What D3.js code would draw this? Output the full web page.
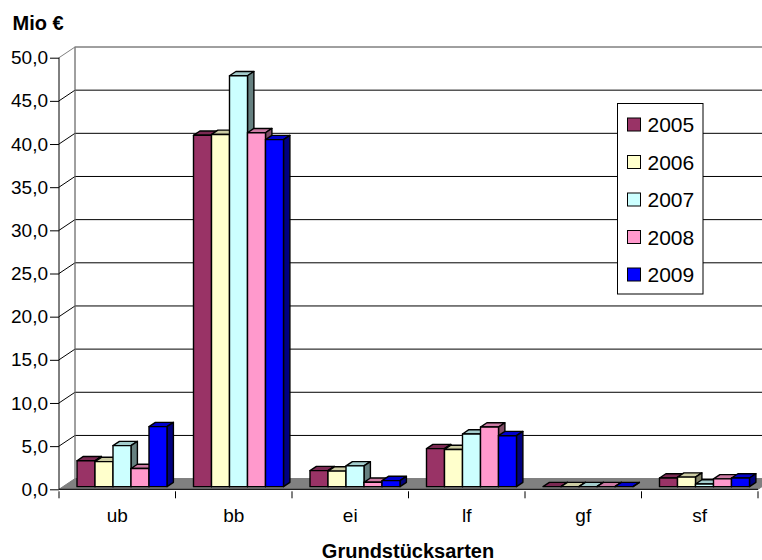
<!DOCTYPE html>
<html>
<head>
<meta charset="utf-8">
<script src="https://cdn.jsdelivr.net/npm/d3@7"></script>
<style>
  html, body { margin: 0; padding: 0; background: #fff; }
  svg { display: block; font-family: "Liberation Sans", Arial, sans-serif; }
</style>
</head>
<body>
<svg id="chart" width="762" height="560"></svg>
<script>
// Grundstücksarten, Mio € je Jahr
const categories = ["ub", "bb", "ei", "lf", "gf", "sf"];
const years = ["2005", "2006", "2007", "2008", "2009"];
const v2005 = [3.0, 40.7, 1.85, 4.4, 0.0, 1.0];
const v2006 = [2.9, 40.8, 1.8, 4.3, 0.0, 1.1];
const v2007 = [4.75, 47.6, 2.4, 6.1, 0.0, 0.3];
const v2008 = [2.1, 41.0, 0.5, 6.9, 0.0, 0.9];
const v2009 = [6.95, 40.2, 0.7, 5.9, 0.0, 1.0];
const yTicks = [0, 5, 10, 15, 20, 25, 30, 35, 40, 45, 50];
const colors = ["#993366", "#FFFFCC", "#CCFFFF", "#FF99CC", "#0000FF"];

const series = [v2005, v2006, v2007, v2008, v2009];

const svg = d3.select("#chart");
const de = d3.formatLocale({ decimal: ",", thousands: ".", grouping: [3], currency: ["", " €"] });
const fmt = de.format(".1f");

// front plane of the 3D box
const left = 59, right = 758;
const y = d3.scaleLinear().domain([0, 50]).range([489.3, 57.7]);
const x = d3.scaleBand().domain(categories).range([left, right]).padding(0);
const xs = d3.scaleBand().domain(years).range([14, 104]).padding(0);
// depth vector (front -> back)
const DX = 16, DY = -10.7;
const barFront = 0.25, barDepth = 0.4;

// back wall
svg.append("rect")
  .attr("x", left + DX).attr("y", y(50) + DY)
  .attr("width", right - left).attr("height", y(0) - y(50))
  .attr("fill", "#fff").attr("stroke", "#808080");

// floor
svg.append("polygon")
  .attr("points", [[left, y(0)], [right, y(0)], [right + DX, y(0) + DY], [left + DX, y(0) + DY]].join(" "))
  .attr("fill", "#808080").attr("stroke", "#808080");

// gridlines on back and side wall
const grid = svg.append("g");
yTicks.filter(v => v > 0).forEach(v => {
  const c = v === 50 ? "#808080" : "#000";
  grid.append("line")
    .attr("x1", left + DX).attr("x2", right + DX)
    .attr("y1", y(v) + DY).attr("y2", y(v) + DY)
    .attr("stroke", c);
  grid.append("line")
    .attr("x1", left).attr("y1", y(v))
    .attr("x2", left + DX).attr("y2", y(v) + DY)
    .attr("stroke", c);
});
grid.append("line")
  .attr("x1", left + DX).attr("x2", left + DX)
  .attr("y1", y(50) + DY).attr("y2", y(0) + DY)
  .attr("stroke", "#808080");

// y axis
const yAxis = svg.append("g")
  .attr("transform", `translate(${left},0)`)
  .call(d3.axisLeft(y).tickValues(yTicks).tickFormat(fmt).tickSize(9).tickPadding(2));
yAxis.select(".domain").attr("stroke", "#000").attr("d", `M0,${y(50)}V${y(0)}`);
yAxis.selectAll(".tick line").attr("stroke", "#000");
yAxis.selectAll(".tick text")
  .attr("font-size", 19).attr("fill", "#000")
  .attr("font-family", "Liberation Sans, Arial, sans-serif");

// category axis
svg.append("line")
  .attr("x1", left).attr("x2", right)
  .attr("y1", y(0)).attr("y2", y(0)).attr("stroke", "#000");
const xAxis = svg.append("g")
  .attr("transform", `translate(0,${y(0)})`)
  .call(d3.axisBottom(x).tickSize(0).tickPadding(19));
xAxis.select(".domain").remove();
xAxis.selectAll(".tick text")
  .attr("font-size", 19).attr("fill", "#000")
  .attr("font-family", "Liberation Sans, Arial, sans-serif");
categories.concat([null]).forEach((c, i) => {
  const xx = c ? x(c) : x(categories[categories.length - 1]) + x.bandwidth();
  svg.append("line")
    .attr("x1", xx).attr("x2", xx)
    .attr("y1", y(0) + 2).attr("y2", y(0) + 9)
    .attr("stroke", "#000");
});

// bars
function shade(col, k) {
  const c = d3.rgb(col);
  return d3.rgb(c.r * k, c.g * k, c.b * k).formatHex();
}
const bars = svg.append("g").attr("stroke", "#000").attr("stroke-width", 1.4).attr("stroke-linejoin", "round");
const bdx = DX * barDepth, bdy = DY * barDepth;
categories.forEach((cat, ci) => {
  years.forEach((yr, si) => {
    const v = series[si][ci];
    const xl = x(cat) + xs(yr) + DX * barFront;
    const w = xs.bandwidth();
    const yt = y(v) + DY * barFront;
    const yb = y(0) + DY * barFront;
    const g = bars.append("g");
    g.append("polygon")
      .attr("points", [[xl, yt], [xl + w, yt], [xl + w + bdx, yt + bdy], [xl + bdx, yt + bdy]].join(" "))
      .attr("fill", shade(colors[si], 0.8));
    g.append("polygon")
      .attr("points", [[xl + w, yt], [xl + w + bdx, yt + bdy], [xl + w + bdx, yb + bdy], [xl + w, yb]].join(" "))
      .attr("fill", shade(colors[si], 0.5));
    if (v > 0) {
      g.append("rect")
        .attr("x", xl).attr("y", yt)
        .attr("width", w).attr("height", yb - yt)
        .attr("fill", colors[si]);
    }
  });
});

// legend
const lg = svg.append("g").attr("transform", "translate(617.5,103.5)");
lg.append("rect").attr("width", 85.5).attr("height", 190.5)
  .attr("fill", "#fff").attr("stroke", "#000");
years.forEach((yr, i) => {
  const cy = 21 + i * 37.5;
  lg.append("rect")
    .attr("x", 10).attr("y", cy - 6.5).attr("width", 13).attr("height", 13)
    .attr("fill", colors[i]).attr("stroke", "#000");
  lg.append("text")
    .attr("x", 30).attr("y", cy + 7.5)
    .attr("font-size", 21).text(yr);
});

// titles
svg.append("text").attr("x", 12.5).attr("y", 29.5)
  .attr("font-size", 20).attr("font-weight", "bold").text("Mio €");
svg.append("text").attr("x", 408).attr("y", 557.5)
  .attr("text-anchor", "middle")
  .attr("font-size", 20).attr("font-weight", "bold").text("Grundstücksarten");
</script>
</body>
</html>
